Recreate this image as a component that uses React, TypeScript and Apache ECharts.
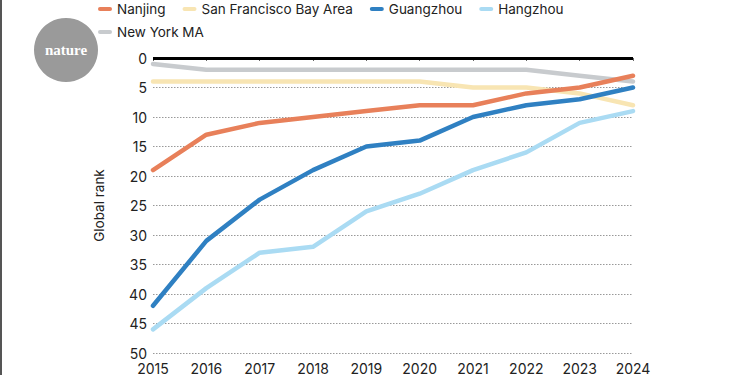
import React, { useEffect, useRef } from "react";
import * as echarts from "echarts";

const years = ["2015", "2016", "2017", "2018", "2019", "2020", "2021", "2022", "2023", "2024"];
const nanjing = [19, 13, 11, 10, 9, 8, 8, 6, 5, 3];
const sanFrancisco = [4, 4, 4, 4, 4, 4, 5, 5, 6, 8];
const guangzhou = [42, 31, 24, 19, 15, 14, 10, 8, 7, 5];
const hangzhou = [46, 39, 33, 32, 26, 23, 19, 16, 11, 9];
const newYork = [1, 2, 2, 2, 2, 2, 2, 2, 3, 4];

const FONT = "Inter, 'Noto Sans', sans-serif";
const ICON = "path://M2,0 L12,0 A2,2 0 0 1 12,4 L2,4 A2,2 0 0 1 2,0 Z";

export default function App() {
  const ref = useRef<HTMLDivElement>(null);
  useEffect(() => {
    if (!ref.current) return;
    const chart = echarts.init(ref.current, null, { renderer: "svg" });
    const mk = (name: string, data: number[], color: string, z: number) => ({
      name,
      type: "line",
      data,
      symbol: "none",
      z,
      lineStyle: { color, width: 4.5, cap: "round", join: "round" },
      itemStyle: { color },
    });
    const legendCommon = {
      icon: ICON,
      itemWidth: 14,
      itemHeight: 4,
      itemGap: 17,
      textStyle: { fontFamily: FONT, fontSize: 13.5, color: "#222" },
    };
    chart.setOption({
      animation: false,
      backgroundColor: "#fff",
      legend: [
        {
          ...legendCommon,
          left: 93,
          top: -3,
          data: ["Nanjing", "San Francisco Bay Area", "Guangzhou", "Hangzhou"],
        },
        {
          ...legendCommon,
          left: 93,
          top: 20,
          data: ["New York MA"],
        },
      ],
      grid: { left: 153, right: 117, top: 58, bottom: 15, containLabel: false },
      xAxis: {
        type: "category",
        data: years,
        boundaryGap: false,
        axisLine: { show: false },
        axisTick: { show: true, length: 3, lineStyle: { color: "#666" }, alignWithLabel: true },
        axisLabel: { fontFamily: FONT, fontSize: 14, color: "#222", margin: 8 },
        splitLine: { show: false },
      },
      yAxis: {
        type: "value",
        inverse: true,
        min: 0,
        max: 50,
        interval: 5,
        name: "Global rank",
        nameLocation: "middle",
        nameGap: 47,
        nameRotate: 90,
        nameTextStyle: { fontFamily: FONT, fontSize: 13.5, color: "#222" },
        axisLine: { show: false },
        axisTick: { show: false },
        axisLabel: { fontFamily: FONT, fontSize: 14, color: "#222", margin: 6 },
        splitLine: { show: true, lineStyle: { color: "#999", type: [1.5, 1.5], width: 1 } },
      },
      series: [
        {
          ...mk("Nanjing", nanjing, "#e8805a", 5),
          markLine: {
            silent: true,
            symbol: "none",
            label: { show: false },
            lineStyle: { color: "#000", width: 3, type: "solid" },
            data: [{ yAxis: 0 }],
          },
        },
        mk("San Francisco Bay Area", sanFrancisco, "#f8e5b3", 3),
        mk("Guangzhou", guangzhou, "#2f80c2", 4),
        mk("Hangzhou", hangzhou, "#aadbf3", 4),
        mk("New York MA", newYork, "#c8cbce", 2),
      ],
      graphic: [
        { type: "rect", left: 0, top: 0, shape: { width: 2, height: 375 }, style: { fill: "#555" } },
        { type: "circle", shape: { cx: 66, cy: 50, r: 32 }, style: { fill: "#9a9a9a" } },
        {
          type: "text",
          x: 66,
          y: 50,
          style: {
            text: "nature",
            fill: "#fff",
            font: "bold 15px 'Liberation Serif', 'DejaVu Serif', serif",
            align: "center",
            verticalAlign: "middle",
          },
        },
      ],
    });
    return () => chart.dispose();
  }, []);
  return (
    <div
      ref={ref}
      style={{ position: "fixed", left: 0, top: 0, width: 750, height: 375 }}
    />
  );
}
